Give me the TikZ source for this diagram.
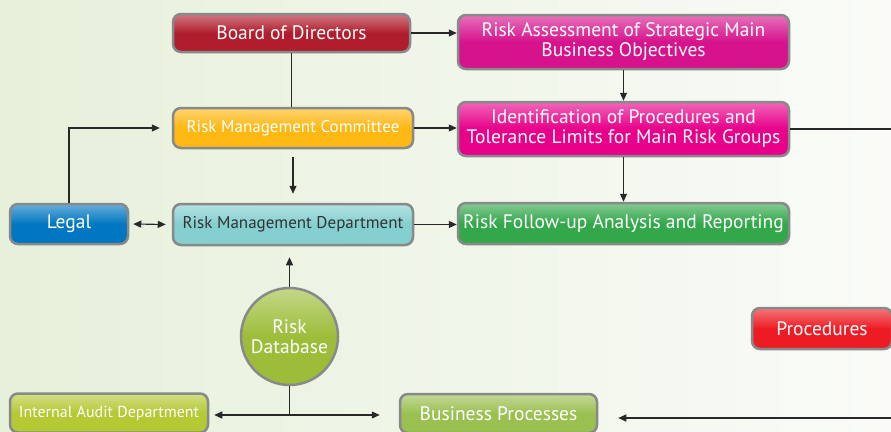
\documentclass[tikz,border=0pt]{standalone}
\usepackage{fontspec}
\setmainfont{PT Sans}
\usetikzlibrary{arrows.meta,calc}

\definecolor{bggreen}{RGB}{230,240,218}
\definecolor{bgwhite}{RGB}{250,251,248}
\definecolor{boxgray}{RGB}{135,137,138}
\definecolor{linegray}{RGB}{40,40,40}
\definecolor{cboard}{RGB}{176,30,46}
\definecolor{cmagenta}{RGB}{214,18,140}
\definecolor{cpink}{RGB}{232,0,138}
\definecolor{corange}{RGB}{253,184,19}
\definecolor{cblue}{RGB}{0,119,192}
\definecolor{cteal}{RGB}{132,207,207}
\definecolor{cgreen}{RGB}{51,168,75}
\definecolor{colive}{RGB}{157,189,58}
\definecolor{cyellowgreen}{RGB}{181,201,53}
\definecolor{cleaf}{RGB}{155,192,82}
\definecolor{cred}{RGB}{237,28,36}

\tikzset{
    box/.style={draw=boxgray, line width=2.5pt, rounded corners=8pt,
        top color=#1!60!white, bottom color=#1, middle color=#1,
        text=white, align=center, inner sep=2pt,
        font=\fontsize{19.5}{20}\selectfont},
    small/.style={font=\fontsize{17}{18}\selectfont},
    arr/.style={draw=linegray, line width=1.1pt, -{Triangle[length=8pt,width=7pt]}},
    arrs/.style={draw=linegray, line width=1.1pt, {Triangle[length=8pt,width=7pt]}-{Triangle[length=8pt,width=7pt]}},
    conn/.style={draw=linegray, line width=1.1pt}
}

\begin{document}
\begin{tikzpicture}[x=1pt, y=-1pt]
    \useasboundingbox (0,0) rectangle (891,431);
    \clip (0,0) rectangle (891,431);
    \shade[left color=bggreen, right color=bgwhite] (0,0) rectangle (891,431);

    % top row
    \node[box=cboard, minimum width=237pt, minimum height=38pt] (bod) at (291.5,33) {Board of Directors};
    \node[box=cmagenta, minimum width=331pt, minimum height=54pt] (assess) at (623.5,42)
        {Risk Assessment of Strategic Main\\Business Objectives};
    % middle rows
    \node[box=corange, small, minimum width=240pt, minimum height=40pt] (rmc) at (293,128) {Risk Management Committee};
    \node[box=cpink, minimum width=331pt, minimum height=54pt] (ident) at (623.5,129)
        {Identification of Procedures and\\Tolerance Limits for Main Risk Groups};
    \node[box=cblue, minimum width=118pt, minimum height=40pt] (legal) at (69,224) {Legal};
    \node[box=cteal, small, text=black!80, minimum width=240pt, minimum height=41pt] (rmd) at (293,224.5) {Risk Management Department};
    \node[box=cgreen, minimum width=331pt, minimum height=41pt] (follow) at (623.5,223.5)
        {Risk Follow-up Analysis and Reporting};
    % bottom
    \node[box=colive, circle, minimum size=97pt, inner sep=0pt] (db) at (289.5,336.5) {Risk\\Database};
    \node[box=cred, minimum width=140pt, minimum height=41pt] (proc) at (822,328.5) {Procedures};
    \node[box=cyellowgreen, minimum width=198pt, minimum height=39pt,
        font=\fontsize{16}{17}\selectfont] (audit) at (109,413) {Internal Audit Department};
    \node[box=cleaf, minimum width=197pt, minimum height=39pt] (bp) at (498.5,413.5) {Business Processes};

    \coordinate (edgeA) at (891,129);
    \coordinate (edgeB) at (891,418);
    \coordinate (join) at (db.south |- 0,415);

    % connectors
    \draw[arr] (bod.east) -- (bod.east -| assess.west);
    \draw[conn] (bod.south) -- (bod.south |- rmc.north);
    \draw[arr] (assess.south) -- (assess.south |- ident.north);
    \draw[arr] (rmc.east) -- (rmc.east -| ident.west);
    \draw[arr, shorten <=8pt, shorten >=9pt] (rmc.south) -- (rmc.south |- rmd.north);
    \draw[arr] (ident.south) -- (ident.south |- follow.north);
    \draw[conn] (ident.east) -- (edgeA);
    \draw[arr, shorten >=12pt] (legal.north) |- (rmc.west);
    \draw[arrs, shorten <=4pt, shorten >=6pt] (legal.east) -- (rmd.west);
    \draw[arr] (rmd.east) -- (rmd.east -| follow.west);
    \draw[arr, shorten >=11pt] (db.north) -- (db.north |- rmd.south);
    \draw[conn] (db.south) -- (join);
    \draw[arrs, shorten <=5pt, shorten >=19pt] (audit.east |- join) -- (bp.west |- join);
    \draw[arr, shorten >=20pt] (edgeB) -- (edgeB -| bp.east);
\end{tikzpicture}
\end{document}
